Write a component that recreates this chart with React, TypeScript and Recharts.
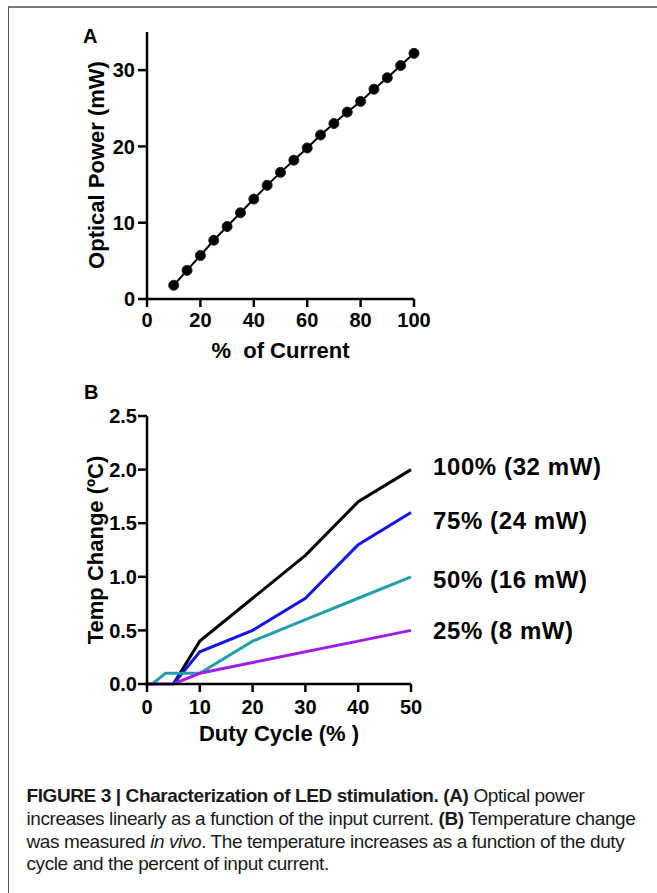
import React from 'react';
import { LineChart, Line, XAxis, YAxis, LabelList } from 'recharts';

const FONT = '"Liberation Sans", Arial, Helvetica, sans-serif';

// Panel A: optical power vs % of current
const currentPct = [10, 15, 20, 25, 30, 35, 40, 45, 50, 55, 60, 65, 70, 75, 80, 85, 90, 95, 100];
const opticalPower = [1.8, 3.75, 5.7, 7.7, 9.5, 11.3, 13.1, 14.9, 16.6, 18.2, 19.8, 21.5, 23.0, 24.5, 25.9, 27.5, 29.0, 30.6, 32.2];
const xTicksA = [0, 20, 40, 60, 80, 100];
const yTicksA = [0, 10, 20, 30];

// Panel B: temperature change vs duty cycle
const duty100 = [5, 10, 20, 30, 40, 50];
const temp100 = [0, 0.4, 0.8, 1.2, 1.7, 2.0];
const duty75 = [5, 10, 20, 30, 40, 50];
const temp75 = [0, 0.3, 0.5, 0.8, 1.3, 1.6];
const duty50 = [0, 1, 3.5, 10, 20, 30, 40, 50];
const temp50 = [0, 0, 0.1, 0.1, 0.4, 0.6, 0.8, 1.0];
const duty25 = [0, 5, 10, 20, 30, 40, 50];
const temp25 = [0, 0, 0.1, 0.2, 0.3, 0.4, 0.5];
const seriesNames = ['100% (32 mW)', '75% (24 mW)', '50% (16 mW)', '25% (8 mW)'];
const xTicksB = [0, 10, 20, 30, 40, 50];
const yTicksB = [0, 0.5, 1.0, 1.5, 2.0, 2.5];

const zip = (xs: number[], ys: number[]) => xs.map((x, i) => ({ x, y: ys[i] }));
const dataA = zip(currentPct, opticalPower);
const seriesB = [
  { name: seriesNames[0], data: zip(duty100, temp100), color: '#000000', dy: -3 },
  { name: seriesNames[1], data: zip(duty75, temp75), color: '#1515e8', dy: 8 },
  { name: seriesNames[2], data: zip(duty50, temp50), color: '#22a0aa', dy: 3 },
  { name: seriesNames[3], data: zip(duty25, temp25), color: '#a01ee8', dy: 0 },
];

const axisLine = { stroke: '#000', strokeWidth: 2.5 };
const tickStyle = { fill: '#000', fontSize: 20, fontWeight: 'bold', fontFamily: FONT };

const xTitle = (text: string, cx: number, baseline: number) => () => (
  <text x={cx} y={baseline} textAnchor="middle" fill="#000" fontSize={22} fontWeight="bold" fontFamily={FONT} style={{ whiteSpace: 'pre' }}>
    {text}
  </text>
);
const yTitle = (text: string, bx: number, cy: number) => () => (
  <text
    x={bx}
    y={cy}
    textAnchor="middle"
    transform={`rotate(-90 ${bx} ${cy})`}
    fill="#000"
    fontSize={22}
    fontWeight="bold"
    fontFamily={FONT}
  >
    {text}
  </text>
);

const endLabel = (name: string, len: number, dy: number) => (props: any) => {
  if (props.index !== len - 1) return null;
  return (
    <text
      x={props.x + 22}
      y={props.y + dy}
      dominantBaseline="central"
      fill="#000"
      fontSize={24}
      letterSpacing={0.6}
      fontWeight="bold"
      fontFamily={FONT}
    >
      {name}
    </text>
  );
};

export default function App() {
  return (
    <div style={{ position: 'absolute', left: 0, top: 0, width: 657, height: 893, background: '#fff', overflow: 'hidden' }}>
      <div
        style={{
          position: 'absolute',
          left: 8,
          top: 6,
          width: 700,
          height: 950,
          borderTop: '2px solid #7a7a7a',
          borderLeft: '1px solid #555',
        }}
      />
      <LineChart
        width={657}
        height={370}
        data={dataA}
        margin={{ top: 32, right: 243, bottom: 0, left: 0 }}
        style={{ position: 'absolute', left: 0, top: 0 }}
      >
        <XAxis
          dataKey="x"
          type="number"
          domain={[0, 100]}
          ticks={xTicksA}
          height={71}
          tickSize={8}
          tickMargin={6}
          axisLine={axisLine}
          tickLine={axisLine}
          tick={tickStyle}
          label={xTitle('%  of Current', 280.5, 358)}
        />
        <YAxis
          type="number"
          domain={[0, 35]}
          ticks={yTicksA}
          width={147}
          tickSize={9}
          tickMargin={3}
          axisLine={axisLine}
          tickLine={axisLine}
          tick={tickStyle}
          label={yTitle('Optical Power (mW)', 104, 165)}
        />
        <Line
          dataKey="y"
          stroke="#000"
          strokeWidth={2}
          dot={{ r: 5, fill: '#000', stroke: '#222', strokeWidth: 1 }}
          isAnimationActive={false}
        />
      </LineChart>
      <LineChart
        width={657}
        height={380}
        margin={{ top: 36, right: 246, bottom: 0, left: 0 }}
        style={{ position: 'absolute', left: 0, top: 380 }}
      >
        <XAxis
          dataKey="x"
          type="number"
          domain={[0, 50]}
          ticks={xTicksB}
          height={76}
          tickSize={8}
          tickMargin={8}
          axisLine={axisLine}
          tickLine={axisLine}
          tick={tickStyle}
          label={xTitle('Duty Cycle (% )', 279, 361)}
        />
        <YAxis
          type="number"
          domain={[0, 2.5]}
          ticks={yTicksB}
          width={147}
          tickSize={9}
          tickMargin={1}
          tickFormatter={(v: number) => v.toFixed(1)}
          axisLine={axisLine}
          tickLine={axisLine}
          tick={tickStyle}
          label={yTitle('Temp Change (ºC)', 103, 170)}
        />
        {seriesB.map((s) => (
          <Line
            key={s.name}
            data={s.data}
            dataKey="y"
            stroke={s.color}
            strokeWidth={3}
            dot={false}
            isAnimationActive={false}
          >
            <LabelList dataKey="y" content={endLabel(s.name, s.data.length, s.dy)} />
          </Line>
        ))}
      </LineChart>
      <svg width={657} height={893} style={{ position: 'absolute', left: 0, top: 0, pointerEvents: 'none' }}>
        <text x={83} y={43} fontSize={20} fontWeight="bold" fontFamily={FONT} fill="#000">A</text>
        <text x={84} y={399} fontSize={20} fontWeight="bold" fontFamily={FONT} fill="#000">B</text>
        <g fontFamily={FONT} fontSize={19} fill="#1a1a1a" letterSpacing={-0.4}>
          <text x={26.5} y={801.7}>
            <tspan fontWeight="bold">FIGURE 3 | Characterization of LED stimulation. (A)</tspan> Optical power
          </text>
          <text x={26.5} y={825}>
            increases linearly as a function of the input current. <tspan fontWeight="bold">(B)</tspan> Temperature change
          </text>
          <text x={26.5} y={847.5}>
            was measured <tspan fontStyle="italic">in vivo</tspan>. The temperature increases as a function of the duty
          </text>
          <text x={26.5} y={870}>cycle and the percent of input current.</text>
        </g>
      </svg>
    </div>
  );
}
